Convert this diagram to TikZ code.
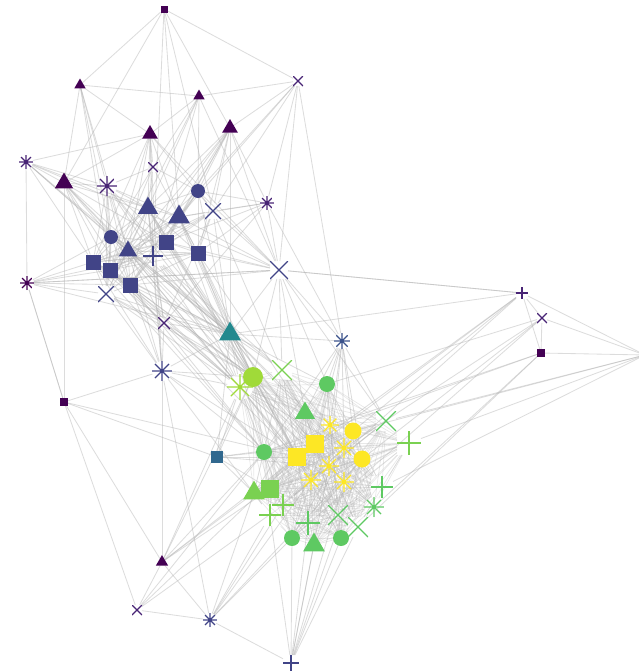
\documentclass[tikz,border=0pt]{standalone}
\usetikzlibrary{shapes.geometric,backgrounds}
\definecolor{vA}{HTML}{440154}
\definecolor{vB}{HTML}{482475}
\definecolor{vC}{HTML}{414487}
\definecolor{vD}{HTML}{3B528B}
\definecolor{vE}{HTML}{31688E}
\definecolor{vF}{HTML}{23898E}
\definecolor{vG}{HTML}{5EC962}
\definecolor{vH}{HTML}{7AD151}
\definecolor{vI}{HTML}{A0DA39}
\definecolor{vJ}{HTML}{FDE725}
\tikzstyle{glyph}=[inner sep=0pt, outer sep=0pt]
\tikzstyle{link}=[draw=black!30, line width=0.6pt, opacity=0.45]
\tikzstyle{corelink}=[draw=black!30, line width=0.5pt, opacity=0.3]
\tikzstyle{sqvertex}=[glyph, rectangle]
\tikzstyle{civertex}=[glyph, circle]
\tikzstyle{trivertex}=[glyph, regular polygon, regular polygon sides=3]
\tikzset{
  xvertex/.style={glyph, rectangle, path picture={
    \draw[draw=#1, line width=0.9pt] (path picture bounding box.south west) -- (path picture bounding box.north east)
      (path picture bounding box.north west) -- (path picture bounding box.south east);}},
  pvertex/.style={glyph, rectangle, path picture={
    \draw[draw=#1, line width=0.9pt] (path picture bounding box.west) -- (path picture bounding box.east)
      (path picture bounding box.north) -- (path picture bounding box.south);}},
  avertex/.style={glyph, circle, path picture={
    \draw[draw=#1, line width=0.9pt] (path picture bounding box.west) -- (path picture bounding box.east)
      (path picture bounding box.north) -- (path picture bounding box.south)
      (path picture bounding box.south west) -- (path picture bounding box.north east)
      (path picture bounding box.north west) -- (path picture bounding box.south east);}}
}

\begin{document}
\begin{tikzpicture}[x=0.025cm, y=-0.025cm]
    \useasboundingbox (0,0) rectangle (639,672);

    % squares
    \foreach \i/\x/\y/\z/\c in {1/164/9/7/vA, 18/166/242/15/vC, 20/198/253/15/vC, 21/93/262/15/vC, 22/110/270/15/vC, 23/130/285/15/vC, 31/64/402/8/vA, 32/217/457/12/vE, 43/315/444/18/vJ, 44/297/457/18/vJ, 51/270/489/18/vH, 64/541/353/8/vA}
        \node[sqvertex, fill=\c, minimum size=\z*0.025cm] (v\i) at (\x,\y) {};

    % circles
    \foreach \i/\x/\y/\z/\c in {11/198/191/14/vC, 16/111/237/14/vC, 33/253/377/20/vI, 36/327/384/16/vG, 40/264/452/16/vG, 41/353/431/17/vJ, 42/362/459/17/vJ, 59/292/538/16/vG, 61/341/538/16/vG}
        \node[civertex, fill=\c, minimum size=\z*0.025cm] (v\i) at (\x,\y) {};

    % triangles
    \foreach \i/\x/\y/\z/\c in {2/80/85/13/vA, 3/199/96/13/vA, 5/150/134/18/vA, 6/230/128/18/vA, 9/64/183/21/vA, 14/148/208/23/vC, 15/179/217/25/vC, 17/128/251/21/vC, 28/230/334/25/vF, 37/305/413/23/vG, 50/254/493/25/vH, 60/314/545/25/vG, 65/162/562/14/vA}
        \node[trivertex, fill=\c, minimum size=\z*0.025cm] (v\i) at (\x,\y) {};

    % crosses
    \foreach \i/\x/\y/\z/\c in {4/298/81/10/vB, 8/153/167/10/vB, 12/213/211/16/vC, 25/106/294/16/vC, 26/279/270/18/vC, 27/164/323/12/vB, 35/282/370/20/vH, 38/386/421/20/vG, 57/338/515/20/vG, 58/358/527/20/vG, 63/542/318/10/vB, 66/137/610/10/vB}
        \node[xvertex=\c, minimum size=\z*0.025cm] (v\i) at (\x,\y) {};

    % plus marks
    \foreach \i/\x/\y/\z/\c in {19/153/256/20/vC, 39/409/443/24/vH, 52/382/487/22/vG, 54/283/505/22/vH, 55/270/515/22/vH, 56/308/523/24/vG, 62/522/293/12/vB, 68/291/663/16/vC}
        \node[pvertex=\c, minimum size=\z*0.025cm] (v\i) at (\x,\y) {};

    % asterisks
    \foreach \i/\x/\y/\z/\c in {7/26/162/14/vB, 10/107/186/20/vB, 13/267/203/14/vB, 24/27/283/14/vA, 29/342/341/16/vD, 30/162/371/20/vC, 34/240/387/26/vI, 45/330/425/18/vJ, 46/344/448/20/vJ, 47/329/466/20/vJ, 48/311/480/20/vJ, 49/344/482/20/vJ, 53/374/507/20/vG, 67/210/620/14/vC}
        \node[avertex=\c, minimum size=\z*0.025cm] (v\i) at (\x,\y) {};

    \coordinate (vout) at (645,355);

    \begin{pgfonlayer}{background}
    % dense green core
    \foreach \a in {33,...,60}
        \foreach \b in {\a,...,61}
            {\ifnum\a<\b \path[corelink] (v\a) -- (v\b); \fi}

    % the rest, as neighbour lists
    \foreach \a/\nbrs in {1/{2,4,9,12,15,19,6}, 2/{3,5,9,10,16,17,22}, 3/{4,5,8,14,11,19,22,26},
        4/{6,11,12,13,15,26,29}, 5/{7,9,14,15,17,19,21,22,12,26,30},
        6/{11,12,13,14,15,18,20,23,25,26,28,17}, 7/{9,24,10,16,21,14,17,28,26},
        8/{5,14,11,10,20,16,22}, 9/{31,10,16,17,21,22,18,14,28,23,33},
        10/{14,16,17,21,22,23,25,15,19,18,28,33}, 11/{12,14,15,18,20,19,28,26,22},
        12/{15,18,20,26,27,28,19,22,17,35}, 13/{26,27,29,11,15,12,20,18},
        14/{15,16,17,18,19,20,21,22,23,25,27,28,30,33,34,44},
        15/{17,18,19,20,21,22,23,26,28,33,34}, 16/{17,18,19,21,22,23,25,24,28,34,35},
        17/{18,19,20,21,22,23,25,27,28,30,34,44,47}, 18/{19,20,21,22,23,26,28,33},
        19/{20,21,22,23,25,27,28,30,33,34,35}, 20/{21,22,23,26,28,33,44,37},
        21/{22,23,24,25,28,30,33,34,40}, 22/{23,24,25,28,33,34,27,44,40},
        23/{24,25,26,28,30,33,34,40}, 24/{25,26,28,31,19}, 25/{28,30,33,34,27},
        26/{28,29,35,36,38,62,33,37,24}, 27/{28,30,33,34},
        28/{29,30,32,33,34,35,36,37,40,43,44,46,47,48},
        29/{36,37,41,43,45,40,42,46,47,38}, 30/{31,33,34,55,65,67,40,44},
        31/{32,44,65,66,24}, 32/{40,44,43,50,51,34,33,47},
        62/{63,64,26,44,47,50,41,28}, 63/{64,59,42,46,36}, 64/{58,45,53,40},
        65/{66,67,33,44,50,40,34,51}, 66/{67,44,40,54}, 67/{68,54,55,59,42,48,50},
        68/{59,60,61,56,58,55,42,47,49}, out/{62,63,64,38,39,41,52}}
        \foreach \b in \nbrs
            \path[link] (v\a) -- (v\b);
    \end{pgfonlayer}

\end{tikzpicture}
\end{document}
